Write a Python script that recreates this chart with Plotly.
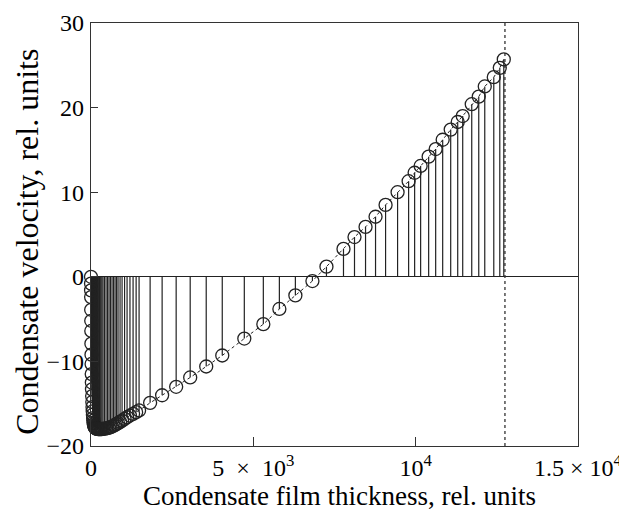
import plotly.graph_objects as go

# Data
thickness = [0, 1, 2, 3, 5, 7, 9, 12, 15, 18, 22, 26, 30, 35, 40, 46, 52, 58, 65, 72,
             80, 88, 97, 106, 116, 127, 139, 152, 166, 181, 197, 216, 237, 260, 284,
             309, 338, 370, 415, 463, 509, 555, 600, 648, 695, 741, 787, 833, 895, 957,
             1034, 1111, 1200, 1296, 1390, 1481, 1821, 2191, 2623, 3055, 3549, 4043,
             4722, 5308, 5802, 6295, 6820, 7252, 7777, 8116, 8456, 8764, 9073, 9443,
             9783, 9968, 10153, 10400, 10616, 10832, 11079, 11295, 11449, 11727, 11943,
             12128, 12406, 12591, 12714]
velocity = [0, -0.8, -1.6, -2.4, -3.9, -5.2, -6.4, -7.9, -9.2, -10.3, -11.5, -12.5,
            -13.3, -14.1, -14.8, -15.4, -15.9, -16.3, -16.7, -17.0, -17.25, -17.45,
            -17.6, -17.7, -17.78, -17.84, -17.88, -17.91, -17.94, -17.96, -17.98,
            -17.99, -18.0, -18.0, -18.0, -18.0, -17.99, -17.98, -17.95, -17.92, -17.88,
            -17.84, -17.78, -17.7, -17.6, -17.5, -17.4, -17.3, -17.15, -17.0, -16.8,
            -16.6, -16.4, -16.2, -16.0, -15.8, -14.9, -14.0, -13.0, -11.9, -10.6, -9.3,
            -7.3, -5.6, -3.8, -2.2, -0.5, 1.2, 3.3, 4.7, 5.9, 7.1, 8.5, 10.0, 11.3,
            12.3, 13.1, 14.2, 15.1, 16.2, 17.4, 18.3, 19.0, 20.4, 21.3, 22.5, 23.6,
            24.7, 25.7]
h_limit = 12750

x_tickvals = [0, 5000, 10000, 15000]
x_ticktext = ["0", "5\u2002×\u200210<sup>3</sup>", "10<sup>4</sup>",
              "1.5 × 10<sup>4</sup>"]
y_tickvals = [-20, -10, 0, 10, 20, 30]
y_ticktext = ["\u221220", "\u221210", "0", "10", "20", "30"]
x_title = "Condensate film thickness, rel. units"
y_title = "Condensate velocity, rel. units"

FONT = "Liberation Serif"

stem_x, stem_y = [], []
for xv, yv in zip(thickness, velocity):
    stem_x += [xv, xv, None]
    stem_y += [0, yv, None]

fig = go.Figure()
fig.add_trace(go.Scatter(x=stem_x, y=stem_y, mode="lines",
                         line=dict(color="#222", width=1.2), hoverinfo="skip"))
fig.add_trace(go.Scatter(x=[h_limit, h_limit], y=[-20, 30], mode="lines",
                         line=dict(color="#333", width=1.3, dash="3px,3px")))
fig.add_trace(go.Scatter(x=thickness, y=velocity, mode="lines+markers",
                         cliponaxis=False,
                         line=dict(color="#222", width=1, dash="dot"),
                         marker=dict(symbol="circle-open", size=13,
                                     line=dict(color="#111", width=1.3))))

# page body has an 8px margin: size the figure so the plot box lands where the reference has it
fig.update_layout(
    width=619, height=504,
    margin=dict(l=83, r=49, t=15, b=66, autoexpand=False),
    paper_bgcolor="white", plot_bgcolor="white",
    showlegend=False,
    font=dict(family=FONT, size=24, color="black"),
    annotations=[
        dict(text=x_title, xref="paper", yref="paper", x=0.511, y=-0.119,
             xanchor="center", yanchor="middle", showarrow=False,
             font=dict(family=FONT, size=27, color="black")),
        dict(text=y_title, xref="paper", yref="paper", x=-0.132, y=0.482,
             xanchor="center", yanchor="middle", showarrow=False, textangle=-90,
             font=dict(family=FONT, size=32, color="black")),
    ],
)
fig.update_xaxes(range=[0, 15000], tickvals=x_tickvals, ticktext=x_ticktext,
                 automargin=False, ticklabelstandoff=0, ticklabeloverflow="allow",
                 ticks="inside", ticklen=9, tickcolor="#333", tickwidth=1.2,
                 showline=True, linecolor="#333", linewidth=1.3, mirror=True,
                 showgrid=False, zeroline=False,
                 tickfont=dict(family=FONT, size=24))
fig.update_yaxes(range=[-20, 30], tickvals=y_tickvals, ticktext=y_ticktext,
                 automargin=False, ticklabelstandoff=1,
                 ticks="inside", ticklen=7, tickcolor="#333", tickwidth=1.2,
                 showline=True, linecolor="#333", linewidth=1.3, mirror=True,
                 showgrid=False, zeroline=True, zerolinecolor="#222", zerolinewidth=1.3,
                 tickfont=dict(family=FONT, size=24))

fig.write_html("out.html")
